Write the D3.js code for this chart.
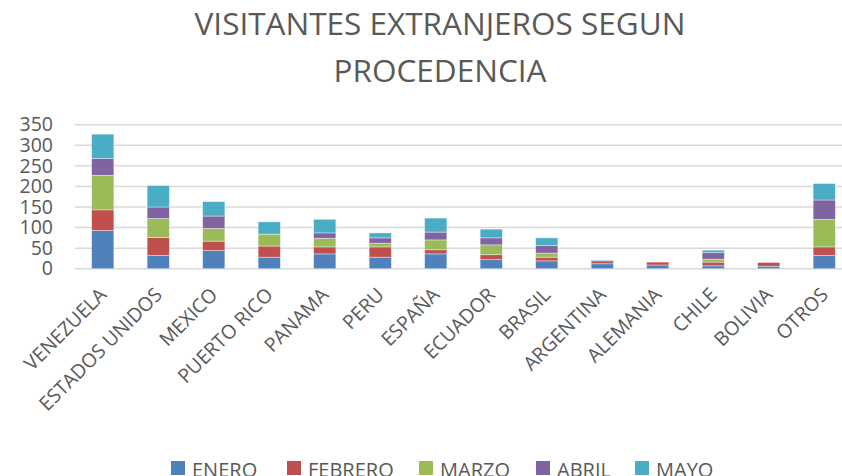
<!DOCTYPE html>
<html>
<head>
<meta charset="utf-8">
<script src="https://cdn.jsdelivr.net/npm/d3@7"></script>
<style>
  body { margin: 0; background: #fff; }
  svg { display: block; font-family: "Open Sans", sans-serif; }
</style>
</head>
<body>
<div id="chart"></div>
<script>
// --- Data ---
var paises = ['VENEZUELA', 'ESTADOS UNIDOS', 'MEXICO', 'PUERTO RICO', 'PANAMA', 'PERU', 'ESPAÑA',
  'ECUADOR', 'BRASIL', 'ARGENTINA', 'ALEMANIA', 'CHILE', 'BOLIVIA', 'OTROS'];
var meses = ['ENERO', 'FEBRERO', 'MARZO', 'ABRIL', 'MAYO'];
var enero   = [93, 32, 44, 28, 36, 28, 36, 22, 19, 12, 9, 7, 6, 32];
var febrero = [50, 44, 23, 27, 17, 25, 10, 12, 9, 7, 7, 9, 9, 21];
var marzo   = [84, 46, 31, 29, 21, 9, 24, 24, 10, 0, 0, 7, 0, 67];
var abril   = [41, 28, 30, 0, 13, 13, 19, 17, 18, 0, 0, 16, 0, 47];
var mayo    = [59, 52, 35, 30, 33, 12, 34, 21, 19, 2, 0, 6, 0, 40];
var yTicks = [0, 50, 100, 150, 200, 250, 300, 350];
var colores = ['#4F81BD', '#C0504D', '#9BBB59', '#8064A2', '#4BACC6'];

var width = 842, height = 476;
var series = [enero, febrero, marzo, abril, mayo];

var rows = paises.map(function(p, i) {
  var r = { pais: p };
  meses.forEach(function(m, j) { r[m] = series[j][i]; });
  return r;
});
var stacked = d3.stack().keys(meses)(rows);

var svg = d3.select('#chart').append('svg')
  .attr('width', width)
  .attr('height', height);

var x = d3.scaleBand()
  .domain(paises)
  .range([75, 852])
  .paddingInner(0.6)
  .paddingOuter(0.3);

var y = d3.scaleLinear()
  .domain([0, 350])
  .range([268.7, 124.7]);

// Title
var title = svg.append('text')
  .attr('text-anchor', 'middle')
  .attr('fill', '#595959')
  .attr('font-size', 31.5);
title.append('tspan').attr('x', 440).attr('y', 35).text('VISITANTES EXTRANJEROS SEGUN');
title.append('tspan').attr('x', 440).attr('y', 82).text('PROCEDENCIA');

// Gridlines
svg.append('g')
  .selectAll('line')
  .data(yTicks)
  .join('line')
  .attr('x1', 75)
  .attr('x2', 852)
  .attr('y1', function(d) { return y(d); })
  .attr('y2', function(d) { return y(d); })
  .attr('stroke', '#d9d9d9')
  .attr('stroke-width', 1.5);

// Y axis labels
var yAxis = svg.append('g')
  .attr('transform', 'translate(60,0)')
  .call(d3.axisLeft(y).tickValues(yTicks).tickSize(0).tickPadding(7));
yAxis.select('.domain').remove();
yAxis.selectAll('text')
  .attr('fill', '#595959')
  .attr('font-size', 19.5)
  .attr('font-family', '"Open Sans", sans-serif');

// Bars
svg.append('g')
  .selectAll('g')
  .data(stacked)
  .join('g')
  .attr('fill', function(d, i) { return colores[i]; })
  .selectAll('rect')
  .data(function(d) { return d; })
  .join('rect')
  .attr('x', function(d) { return x(d.data.pais); })
  .attr('width', x.bandwidth())
  .attr('y', function(d) { return y(d[1]); })
  .attr('height', function(d) { return y(d[0]) - y(d[1]); })
  .attr('stroke', 'rgba(255,255,255,0.5)')
  .attr('stroke-width', 0.75);

// X labels (rotated)
svg.append('g')
  .selectAll('text')
  .data(paises)
  .join('text')
  .attr('text-anchor', 'end')
  .attr('fill', '#595959')
  .attr('font-size', 19.5)
  .attr('transform', function(d) {
    var cx = x(d) + x.bandwidth() / 2 + 5;
    return 'translate(' + cx + ',296) rotate(-45)';
  })
  .text(function(d) { return d; });

// Legend
var legX = [171, 287, 419, 536, 635];
var leg = svg.append('g')
  .selectAll('g')
  .data(meses)
  .join('g')
  .attr('transform', function(d, i) { return 'translate(' + legX[i] + ',0)'; });
leg.append('rect')
  .attr('y', 461)
  .attr('width', 14)
  .attr('height', 14)
  .attr('fill', function(d, i) { return colores[i]; });
leg.append('text')
  .attr('x', 21)
  .attr('y', 477)
  .attr('fill', '#595959')
  .attr('font-size', 20)
  .text(function(d) { return d; });
</script>
</body>
</html>
